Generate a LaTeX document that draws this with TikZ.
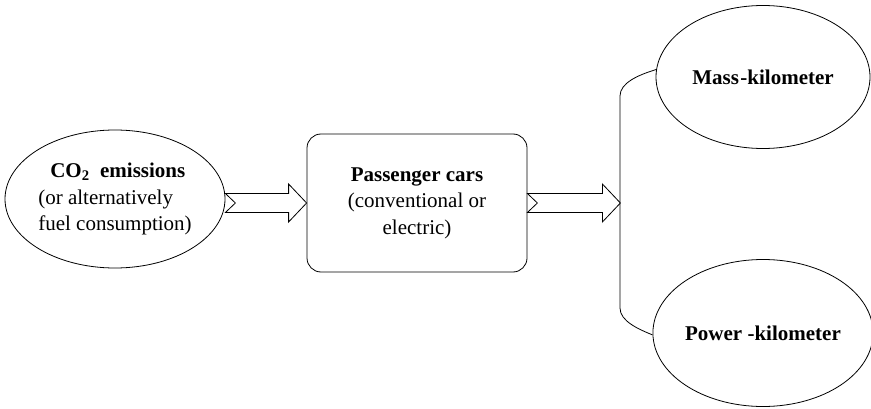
\documentclass[tikz,border=0pt]{standalone}
\usepackage{fontspec}
\setmainfont{Liberation Serif}
\usetikzlibrary{positioning, calc, shapes}

% hollow block arrow with notched tail
\newcommand{\fatArrow}[2]{%
  \draw let \p1=(#1), \p2=(#2) in
    (\x1,\y1-9.5pt) -- (\x2-18pt,\y1-9.5pt) -- (\x2-18pt,\y1-19pt) -- (\x2,\y1)
    -- (\x2-18pt,\y1+19pt) -- (\x2-18pt,\y1+9.5pt) -- (\x1,\y1+9.5pt)
    -- (\x1+10pt,\y1) -- cycle;}

\begin{document}
\begin{tikzpicture}[x=1pt, y=1pt, line width=0.8pt,
    every node/.style={font=\fontsize{21}{26.5}\selectfont}]

		\useasboundingbox (0,0) rectangle (871,408);

		%nodes of the scheme
		\node (co2) at (115,209) [ellipse, draw, inner sep=0pt, minimum width=220pt,
		minimum height=138pt, align=left] {\hspace{12pt}\textbf{CO\textsubscript{2}\ \ emissions}\\(or alternatively\\fuel consumption)};

		\node (cars) at (417,205) [rectangle, draw, rounded corners=14pt, minimum width=220pt,
		minimum height=138pt, align=center] {\textbf{Passenger cars}\\(conventional or\\electric)};

		\node (mass) at (763,331) [ellipse, draw, inner sep=0pt, minimum width=214pt,
		minimum height=143pt] {\textbf{Mass\kern1.5pt-kilometer}};

		\node (power) at (763,75) [ellipse, draw, inner sep=0pt, minimum width=214pt,
		minimum height=147pt] {\textbf{Power -kilometer}};

		\path (cars.east) ++(93,0) coordinate (split);

		\fatArrow{co2.east |- cars.west}{cars.west}
		\fatArrow{cars.east}{split}

		\draw (mass.176) .. controls (638,333) and (620,325) .. (620,312) -- (620,100)
		.. controls (620,87) and (638,79) .. (power.181);

\end{tikzpicture}
\end{document}
